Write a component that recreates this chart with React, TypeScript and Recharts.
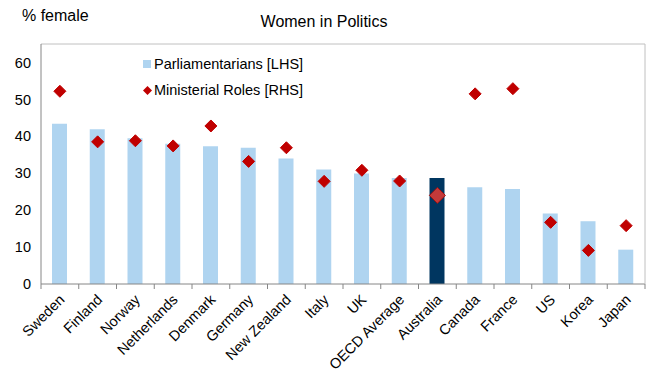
import { ComposedChart, Bar, Scatter, XAxis, YAxis, Legend, ReferenceLine, Cell } from 'recharts';

const countries = [
  'Sweden', 'Finland', 'Norway', 'Netherlands', 'Denmark', 'Germany', 'New Zealand', 'Italy',
  'UK', 'OECD Average', 'Australia', 'Canada', 'France', 'US', 'Korea', 'Japan',
];
// share of parliamentarians who are women (%)
const parliamentarians = [43.4, 41.9, 39.5, 38.0, 37.3, 36.9, 34.0, 31.0, 29.9, 28.7, 28.7, 26.2, 25.7, 19.1, 17.0, 9.3];
// share of ministerial roles held by women (%)
const ministerialRoles = [52.2, 38.5, 38.8, 37.4, 42.8, 33.2, 36.9, 27.8, 30.8, 27.9, 24.0, 51.5, 52.9, 16.7, 9.1, 15.8];
const yTicks = [0, 10, 20, 30, 40, 50, 60];
const HIGHLIGHT = 'Australia';

const FONT = '"Liberation Sans", Arial, sans-serif';
const BAR_COLOR = '#afd4f0';
const BAR_HIGHLIGHT = '#003660';
const DIAMOND = '#c00000';

const data = countries.map((name, i) => ({
  name,
  parl: parliamentarians[i],
  min: ministerialRoles[i],
}));

const Diamond = (props: any) => {
  const { cx, cy, payload } = props;
  if (cx == null || cy == null) return null;
  const big = payload?.name === HIGHLIGHT;
  const r = big ? 8 : 6;
  return (
    <polygon
      points={`${cx},${cy - r} ${cx + r},${cy} ${cx},${cy + r} ${cx - r},${cy}`}
      fill={big ? '#c43a3a' : DIAMOND}
      stroke={big ? '#a01010' : DIAMOND}
      strokeWidth={1}
    />
  );
};

const CategoryTick = (props: any) => {
  const { x, y, payload, index } = props;
  const half = payload?.offset ?? 0;
  const axisY = y - 8;
  const lx = x + 2;
  const ly = y + 5;
  return (
    <g>
      <line x1={x - half} y1={axisY} x2={x - half} y2={axisY + 5} stroke="#868686" />
      {index === countries.length - 1 && (
        <line x1={x + half} y1={axisY} x2={x + half} y2={axisY + 5} stroke="#868686" />
      )}
      <text
        x={lx}
        y={ly}
        transform={`rotate(-45, ${lx}, ${ly})`}
        textAnchor="end"
        dominantBaseline="central"
        fontSize={14.5}
        fontFamily={FONT}
        fill="#000"
      >
        {payload.value}
      </text>
    </g>
  );
};

const LegendBox = () => (
  <div style={{ fontFamily: FONT, fontSize: 14.5, color: '#000', lineHeight: '26px' }}>
    <div style={{ display: 'flex', alignItems: 'center' }}>
      <span style={{ width: 8, height: 8, background: BAR_COLOR, display: 'inline-block', marginRight: 3 }} />
      Parliamentarians [LHS]
    </div>
    <div style={{ display: 'flex', alignItems: 'center' }}>
      <svg width={9} height={9} style={{ marginRight: 2 }}>
        <polygon points="4.5,0 9,4.5 4.5,9 0,4.5" fill={DIAMOND} />
      </svg>
      Ministerial Roles [RHS]
    </div>
  </div>
);

export default function App() {
  return (
    <div style={{ position: 'absolute', left: 0, top: 0, width: 649, height: 372, background: '#fff' }}>
      <ComposedChart
        width={649}
        height={372}
        data={data}
        margin={{ top: 44, right: 0, left: 0, bottom: 0 }}
        barCategoryGap={0}
      >
        <text x={22} y={21} fontSize={16} fontFamily={FONT} fill="#000">% female</text>
        <text x={324} y={27} textAnchor="middle" fontSize={16} fontFamily={FONT} fill="#000">
          Women in Politics
        </text>
        <XAxis
          dataKey="name"
          interval={0}
          height={88}
          tickLine={false}
          axisLine={{ stroke: '#868686' }}
          tick={<CategoryTick />}
        />
        <YAxis
          yAxisId="left"
          domain={[0, 65]}
          ticks={yTicks}
          width={41}
          tickLine={false}
          tickSize={0}
          tickMargin={10}
          axisLine={{ stroke: '#868686' }}
          tick={{ fontSize: 14.5, fontFamily: FONT, fill: '#000' }}
        />
        <YAxis
          yAxisId="right"
          orientation="right"
          domain={[0, 65]}
          width={4}
          tick={false}
          tickLine={false}
          axisLine={{ stroke: '#c0c0c0' }}
        />
        <ReferenceLine yAxisId="left" y={65} stroke="#c0c0c0" />
        <Legend
          layout="vertical"
          align="center"
          verticalAlign="middle"
          content={<LegendBox />}
          wrapperStyle={{ left: 143, top: 51, width: 220 }}
        />
        <Bar yAxisId="left" dataKey="parl" barSize={15} isAnimationActive={false}>
          {data.map((d) => (
            <Cell key={d.name} fill={d.name === HIGHLIGHT ? BAR_HIGHLIGHT : BAR_COLOR} />
          ))}
        </Bar>
        <Scatter yAxisId="right" dataKey="min" shape={<Diamond />} isAnimationActive={false} />
      </ComposedChart>
    </div>
  );
}
